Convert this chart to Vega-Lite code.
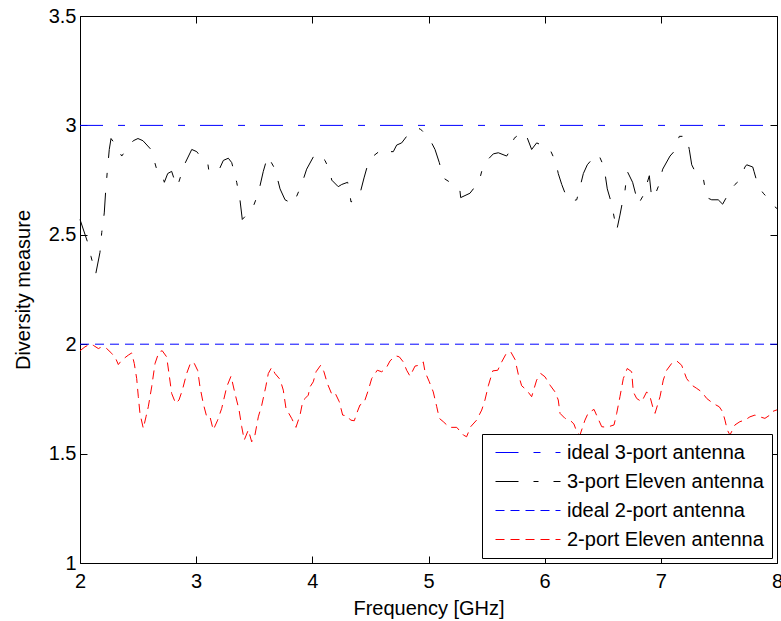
{
  "$schema": "https://vega.github.io/schema/vega-lite/v6.json",
  "autosize": "none",
  "width": 697,
  "height": 547,
  "padding": {"left": 80, "top": 16, "right": 4, "bottom": 58},
  "background": "white",
  "config": {
    "font": "Liberation Sans",
    "view": {"stroke": null},
    "axis": {"grid": false, "domainColor": "black", "tickColor": "black", "labelColor": "black", "titleColor": "black", "labelFontSize": 20, "titleFontSize": 20, "titleFontWeight": "normal", "tickSize": -7, "domainWidth": 1, "tickWidth": 1, "labelFlush": false, "labelOverlap": false},
    "legend": {"orient": "none", "legendX": 402, "legendY": 418, "fillColor": "white", "strokeColor": "black", "padding": 8, "labelFontSize": 20, "labelColor": "black", "rowPadding": 8, "symbolSize": 400, "symbolType": "M-0.5,0H6", "symbolStrokeWidth": 1, "labelOffset": 56, "labelLimit": 400}
  },
  "data": {"values": [
    {"freq": 2, "dm": 3, "series": "ideal 3-port antenna"},
    {"freq": 8, "dm": 3, "series": "ideal 3-port antenna"},
    {"freq": 2, "dm": 2, "series": "ideal 2-port antenna"},
    {"freq": 8, "dm": 2, "series": "ideal 2-port antenna"},
    {"freq": 2.000, "dm": 2.57, "series": "3-port Eleven antenna"},
    {"freq": 2.063, "dm": 2.47, "series": "3-port Eleven antenna"},
    {"freq": 2.095, "dm": 2.40, "series": "3-port Eleven antenna"},
    {"freq": 2.135, "dm": 2.32, "series": "3-port Eleven antenna"},
    {"freq": 2.172, "dm": 2.42, "series": "3-port Eleven antenna"},
    {"freq": 2.187, "dm": 2.51, "series": "3-port Eleven antenna"},
    {"freq": 2.209, "dm": 2.60, "series": "3-port Eleven antenna"},
    {"freq": 2.221, "dm": 2.70, "series": "3-port Eleven antenna"},
    {"freq": 2.235, "dm": 2.79, "series": "3-port Eleven antenna"},
    {"freq": 2.252, "dm": 2.89, "series": "3-port Eleven antenna"},
    {"freq": 2.267, "dm": 2.94, "series": "3-port Eleven antenna"},
    {"freq": 2.295, "dm": 2.92, "series": "3-port Eleven antenna"},
    {"freq": 2.359, "dm": 2.86, "series": "3-port Eleven antenna"},
    {"freq": 2.387, "dm": 2.88, "series": "3-port Eleven antenna"},
    {"freq": 2.459, "dm": 2.93, "series": "3-port Eleven antenna"},
    {"freq": 2.499, "dm": 2.94, "series": "3-port Eleven antenna"},
    {"freq": 2.542, "dm": 2.93, "series": "3-port Eleven antenna"},
    {"freq": 2.611, "dm": 2.89, "series": "3-port Eleven antenna"},
    {"freq": 2.628, "dm": 2.86, "series": "3-port Eleven antenna"},
    {"freq": 2.665, "dm": 2.79, "series": "3-port Eleven antenna"},
    {"freq": 2.703, "dm": 2.78, "series": "3-port Eleven antenna"},
    {"freq": 2.726, "dm": 2.74, "series": "3-port Eleven antenna"},
    {"freq": 2.755, "dm": 2.78, "series": "3-port Eleven antenna"},
    {"freq": 2.789, "dm": 2.79, "series": "3-port Eleven antenna"},
    {"freq": 2.832, "dm": 2.72, "series": "3-port Eleven antenna"},
    {"freq": 2.844, "dm": 2.73, "series": "3-port Eleven antenna"},
    {"freq": 2.898, "dm": 2.82, "series": "3-port Eleven antenna"},
    {"freq": 2.962, "dm": 2.89, "series": "3-port Eleven antenna"},
    {"freq": 3.005, "dm": 2.88, "series": "3-port Eleven antenna"},
    {"freq": 3.048, "dm": 2.85, "series": "3-port Eleven antenna"},
    {"freq": 3.099, "dm": 2.83, "series": "3-port Eleven antenna"},
    {"freq": 3.110, "dm": 2.79, "series": "3-port Eleven antenna"},
    {"freq": 3.191, "dm": 2.79, "series": "3-port Eleven antenna"},
    {"freq": 3.234, "dm": 2.84, "series": "3-port Eleven antenna"},
    {"freq": 3.277, "dm": 2.85, "series": "3-port Eleven antenna"},
    {"freq": 3.306, "dm": 2.83, "series": "3-port Eleven antenna"},
    {"freq": 3.349, "dm": 2.74, "series": "3-port Eleven antenna"},
    {"freq": 3.377, "dm": 2.66, "series": "3-port Eleven antenna"},
    {"freq": 3.397, "dm": 2.57, "series": "3-port Eleven antenna"},
    {"freq": 3.449, "dm": 2.60, "series": "3-port Eleven antenna"},
    {"freq": 3.492, "dm": 2.63, "series": "3-port Eleven antenna"},
    {"freq": 3.535, "dm": 2.69, "series": "3-port Eleven antenna"},
    {"freq": 3.578, "dm": 2.79, "series": "3-port Eleven antenna"},
    {"freq": 3.616, "dm": 2.86, "series": "3-port Eleven antenna"},
    {"freq": 3.679, "dm": 2.80, "series": "3-port Eleven antenna"},
    {"freq": 3.722, "dm": 2.71, "series": "3-port Eleven antenna"},
    {"freq": 3.765, "dm": 2.66, "series": "3-port Eleven antenna"},
    {"freq": 3.836, "dm": 2.64, "series": "3-port Eleven antenna"},
    {"freq": 3.908, "dm": 2.73, "series": "3-port Eleven antenna"},
    {"freq": 3.951, "dm": 2.80, "series": "3-port Eleven antenna"},
    {"freq": 4.023, "dm": 2.87, "series": "3-port Eleven antenna"},
    {"freq": 4.051, "dm": 2.87, "series": "3-port Eleven antenna"},
    {"freq": 4.109, "dm": 2.84, "series": "3-port Eleven antenna"},
    {"freq": 4.152, "dm": 2.79, "series": "3-port Eleven antenna"},
    {"freq": 4.167, "dm": 2.75, "series": "3-port Eleven antenna"},
    {"freq": 4.223, "dm": 2.72, "series": "3-port Eleven antenna"},
    {"freq": 4.253, "dm": 2.73, "series": "3-port Eleven antenna"},
    {"freq": 4.304, "dm": 2.74, "series": "3-port Eleven antenna"},
    {"freq": 4.324, "dm": 2.68, "series": "3-port Eleven antenna"},
    {"freq": 4.333, "dm": 2.65, "series": "3-port Eleven antenna"},
    {"freq": 4.396, "dm": 2.67, "series": "3-port Eleven antenna"},
    {"freq": 4.416, "dm": 2.70, "series": "3-port Eleven antenna"},
    {"freq": 4.445, "dm": 2.76, "series": "3-port Eleven antenna"},
    {"freq": 4.482, "dm": 2.83, "series": "3-port Eleven antenna"},
    {"freq": 4.525, "dm": 2.86, "series": "3-port Eleven antenna"},
    {"freq": 4.597, "dm": 2.89, "series": "3-port Eleven antenna"},
    {"freq": 4.611, "dm": 2.88, "series": "3-port Eleven antenna"},
    {"freq": 4.697, "dm": 2.88, "series": "3-port Eleven antenna"},
    {"freq": 4.726, "dm": 2.91, "series": "3-port Eleven antenna"},
    {"freq": 4.769, "dm": 2.92, "series": "3-port Eleven antenna"},
    {"freq": 4.812, "dm": 2.95, "series": "3-port Eleven antenna"},
    {"freq": 4.855, "dm": 2.97, "series": "3-port Eleven antenna"},
    {"freq": 4.927, "dm": 2.985, "series": "3-port Eleven antenna"},
    {"freq": 4.955, "dm": 2.97, "series": "3-port Eleven antenna"},
    {"freq": 5.027, "dm": 2.92, "series": "3-port Eleven antenna"},
    {"freq": 5.056, "dm": 2.89, "series": "3-port Eleven antenna"},
    {"freq": 5.093, "dm": 2.83, "series": "3-port Eleven antenna"},
    {"freq": 5.127, "dm": 2.76, "series": "3-port Eleven antenna"},
    {"freq": 5.185, "dm": 2.74, "series": "3-port Eleven antenna"},
    {"freq": 5.228, "dm": 2.73, "series": "3-port Eleven antenna"},
    {"freq": 5.271, "dm": 2.70, "series": "3-port Eleven antenna"},
    {"freq": 5.277, "dm": 2.67, "series": "3-port Eleven antenna"},
    {"freq": 5.357, "dm": 2.69, "series": "3-port Eleven antenna"},
    {"freq": 5.386, "dm": 2.71, "series": "3-port Eleven antenna"},
    {"freq": 5.429, "dm": 2.73, "series": "3-port Eleven antenna"},
    {"freq": 5.458, "dm": 2.79, "series": "3-port Eleven antenna"},
    {"freq": 5.486, "dm": 2.83, "series": "3-port Eleven antenna"},
    {"freq": 5.558, "dm": 2.87, "series": "3-port Eleven antenna"},
    {"freq": 5.601, "dm": 2.875, "series": "3-port Eleven antenna"},
    {"freq": 5.673, "dm": 2.86, "series": "3-port Eleven antenna"},
    {"freq": 5.708, "dm": 2.89, "series": "3-port Eleven antenna"},
    {"freq": 5.736, "dm": 2.94, "series": "3-port Eleven antenna"},
    {"freq": 5.802, "dm": 2.97, "series": "3-port Eleven antenna"},
    {"freq": 5.845, "dm": 2.95, "series": "3-port Eleven antenna"},
    {"freq": 5.888, "dm": 2.89, "series": "3-port Eleven antenna"},
    {"freq": 5.931, "dm": 2.92, "series": "3-port Eleven antenna"},
    {"freq": 5.974, "dm": 2.91, "series": "3-port Eleven antenna"},
    {"freq": 6.031, "dm": 2.90, "series": "3-port Eleven antenna"},
    {"freq": 6.046, "dm": 2.89, "series": "3-port Eleven antenna"},
    {"freq": 6.097, "dm": 2.83, "series": "3-port Eleven antenna"},
    {"freq": 6.117, "dm": 2.78, "series": "3-port Eleven antenna"},
    {"freq": 6.147, "dm": 2.73, "series": "3-port Eleven antenna"},
    {"freq": 6.190, "dm": 2.67, "series": "3-port Eleven antenna"},
    {"freq": 6.233, "dm": 2.655, "series": "3-port Eleven antenna"},
    {"freq": 6.276, "dm": 2.66, "series": "3-port Eleven antenna"},
    {"freq": 6.310, "dm": 2.73, "series": "3-port Eleven antenna"},
    {"freq": 6.333, "dm": 2.78, "series": "3-port Eleven antenna"},
    {"freq": 6.367, "dm": 2.82, "series": "3-port Eleven antenna"},
    {"freq": 6.448, "dm": 2.87, "series": "3-port Eleven antenna"},
    {"freq": 6.470, "dm": 2.86, "series": "3-port Eleven antenna"},
    {"freq": 6.511, "dm": 2.81, "series": "3-port Eleven antenna"},
    {"freq": 6.539, "dm": 2.71, "series": "3-port Eleven antenna"},
    {"freq": 6.577, "dm": 2.64, "series": "3-port Eleven antenna"},
    {"freq": 6.591, "dm": 2.60, "series": "3-port Eleven antenna"},
    {"freq": 6.620, "dm": 2.52, "series": "3-port Eleven antenna"},
    {"freq": 6.648, "dm": 2.59, "series": "3-port Eleven antenna"},
    {"freq": 6.677, "dm": 2.67, "series": "3-port Eleven antenna"},
    {"freq": 6.691, "dm": 2.70, "series": "3-port Eleven antenna"},
    {"freq": 6.711, "dm": 2.79, "series": "3-port Eleven antenna"},
    {"freq": 6.757, "dm": 2.74, "series": "3-port Eleven antenna"},
    {"freq": 6.806, "dm": 2.64, "series": "3-port Eleven antenna"},
    {"freq": 6.849, "dm": 2.68, "series": "3-port Eleven antenna"},
    {"freq": 6.901, "dm": 2.77, "series": "3-port Eleven antenna"},
    {"freq": 6.921, "dm": 2.67, "series": "3-port Eleven antenna"},
    {"freq": 6.941, "dm": 2.67, "series": "3-port Eleven antenna"},
    {"freq": 6.978, "dm": 2.72, "series": "3-port Eleven antenna"},
    {"freq": 7.016, "dm": 2.80, "series": "3-port Eleven antenna"},
    {"freq": 7.079, "dm": 2.86, "series": "3-port Eleven antenna"},
    {"freq": 7.113, "dm": 2.88, "series": "3-port Eleven antenna"},
    {"freq": 7.159, "dm": 2.95, "series": "3-port Eleven antenna"},
    {"freq": 7.222, "dm": 2.95, "series": "3-port Eleven antenna"},
    {"freq": 7.245, "dm": 2.89, "series": "3-port Eleven antenna"},
    {"freq": 7.266, "dm": 2.82, "series": "3-port Eleven antenna"},
    {"freq": 7.294, "dm": 2.79, "series": "3-port Eleven antenna"},
    {"freq": 7.365, "dm": 2.76, "series": "3-port Eleven antenna"},
    {"freq": 7.395, "dm": 2.67, "series": "3-port Eleven antenna"},
    {"freq": 7.438, "dm": 2.66, "series": "3-port Eleven antenna"},
    {"freq": 7.494, "dm": 2.66, "series": "3-port Eleven antenna"},
    {"freq": 7.532, "dm": 2.64, "series": "3-port Eleven antenna"},
    {"freq": 7.595, "dm": 2.70, "series": "3-port Eleven antenna"},
    {"freq": 7.638, "dm": 2.73, "series": "3-port Eleven antenna"},
    {"freq": 7.681, "dm": 2.75, "series": "3-port Eleven antenna"},
    {"freq": 7.724, "dm": 2.81, "series": "3-port Eleven antenna"},
    {"freq": 7.739, "dm": 2.82, "series": "3-port Eleven antenna"},
    {"freq": 7.791, "dm": 2.81, "series": "3-port Eleven antenna"},
    {"freq": 7.802, "dm": 2.79, "series": "3-port Eleven antenna"},
    {"freq": 7.839, "dm": 2.72, "series": "3-port Eleven antenna"},
    {"freq": 7.882, "dm": 2.69, "series": "3-port Eleven antenna"},
    {"freq": 7.916, "dm": 2.67, "series": "3-port Eleven antenna"},
    {"freq": 7.954, "dm": 2.64, "series": "3-port Eleven antenna"},
    {"freq": 8.000, "dm": 2.62, "series": "3-port Eleven antenna"},
    {"freq": 2.000, "dm": 1.97, "series": "2-port Eleven antenna"},
    {"freq": 2.043, "dm": 1.988, "series": "2-port Eleven antenna"},
    {"freq": 2.086, "dm": 2.0, "series": "2-port Eleven antenna"},
    {"freq": 2.114, "dm": 1.995, "series": "2-port Eleven antenna"},
    {"freq": 2.158, "dm": 1.98, "series": "2-port Eleven antenna"},
    {"freq": 2.187, "dm": 1.988, "series": "2-port Eleven antenna"},
    {"freq": 2.230, "dm": 1.98, "series": "2-port Eleven antenna"},
    {"freq": 2.273, "dm": 1.958, "series": "2-port Eleven antenna"},
    {"freq": 2.307, "dm": 1.935, "series": "2-port Eleven antenna"},
    {"freq": 2.330, "dm": 1.907, "series": "2-port Eleven antenna"},
    {"freq": 2.359, "dm": 1.927, "series": "2-port Eleven antenna"},
    {"freq": 2.416, "dm": 1.95, "series": "2-port Eleven antenna"},
    {"freq": 2.445, "dm": 1.96, "series": "2-port Eleven antenna"},
    {"freq": 2.467, "dm": 1.912, "series": "2-port Eleven antenna"},
    {"freq": 2.488, "dm": 1.843, "series": "2-port Eleven antenna"},
    {"freq": 2.502, "dm": 1.76, "series": "2-port Eleven antenna"},
    {"freq": 2.516, "dm": 1.684, "series": "2-port Eleven antenna"},
    {"freq": 2.545, "dm": 1.615, "series": "2-port Eleven antenna"},
    {"freq": 2.568, "dm": 1.668, "series": "2-port Eleven antenna"},
    {"freq": 2.588, "dm": 1.714, "series": "2-port Eleven antenna"},
    {"freq": 2.617, "dm": 1.805, "series": "2-port Eleven antenna"},
    {"freq": 2.646, "dm": 1.912, "series": "2-port Eleven antenna"},
    {"freq": 2.680, "dm": 1.965, "series": "2-port Eleven antenna"},
    {"freq": 2.708, "dm": 1.97, "series": "2-port Eleven antenna"},
    {"freq": 2.746, "dm": 1.942, "series": "2-port Eleven antenna"},
    {"freq": 2.766, "dm": 1.866, "series": "2-port Eleven antenna"},
    {"freq": 2.789, "dm": 1.775, "series": "2-port Eleven antenna"},
    {"freq": 2.824, "dm": 1.729, "series": "2-port Eleven antenna"},
    {"freq": 2.852, "dm": 1.745, "series": "2-port Eleven antenna"},
    {"freq": 2.881, "dm": 1.79, "series": "2-port Eleven antenna"},
    {"freq": 2.918, "dm": 1.866, "series": "2-port Eleven antenna"},
    {"freq": 2.955, "dm": 1.919, "series": "2-port Eleven antenna"},
    {"freq": 2.984, "dm": 1.912, "series": "2-port Eleven antenna"},
    {"freq": 3.013, "dm": 1.88, "series": "2-port Eleven antenna"},
    {"freq": 3.033, "dm": 1.805, "series": "2-port Eleven antenna"},
    {"freq": 3.061, "dm": 1.729, "series": "2-port Eleven antenna"},
    {"freq": 3.091, "dm": 1.668, "series": "2-port Eleven antenna"},
    {"freq": 3.119, "dm": 1.668, "series": "2-port Eleven antenna"},
    {"freq": 3.147, "dm": 1.608, "series": "2-port Eleven antenna"},
    {"freq": 3.185, "dm": 1.653, "series": "2-port Eleven antenna"},
    {"freq": 3.220, "dm": 1.707, "series": "2-port Eleven antenna"},
    {"freq": 3.263, "dm": 1.805, "series": "2-port Eleven antenna"},
    {"freq": 3.300, "dm": 1.854, "series": "2-port Eleven antenna"},
    {"freq": 3.334, "dm": 1.775, "series": "2-port Eleven antenna"},
    {"freq": 3.369, "dm": 1.70, "series": "2-port Eleven antenna"},
    {"freq": 3.392, "dm": 1.623, "series": "2-port Eleven antenna"},
    {"freq": 3.414, "dm": 1.562, "series": "2-port Eleven antenna"},
    {"freq": 3.449, "dm": 1.608, "series": "2-port Eleven antenna"},
    {"freq": 3.478, "dm": 1.554, "series": "2-port Eleven antenna"},
    {"freq": 3.506, "dm": 1.585, "series": "2-port Eleven antenna"},
    {"freq": 3.535, "dm": 1.668, "series": "2-port Eleven antenna"},
    {"freq": 3.564, "dm": 1.72, "series": "2-port Eleven antenna"},
    {"freq": 3.599, "dm": 1.805, "series": "2-port Eleven antenna"},
    {"freq": 3.621, "dm": 1.866, "series": "2-port Eleven antenna"},
    {"freq": 3.650, "dm": 1.894, "series": "2-port Eleven antenna"},
    {"freq": 3.679, "dm": 1.866, "series": "2-port Eleven antenna"},
    {"freq": 3.722, "dm": 1.839, "series": "2-port Eleven antenna"},
    {"freq": 3.750, "dm": 1.79, "series": "2-port Eleven antenna"},
    {"freq": 3.773, "dm": 1.707, "series": "2-port Eleven antenna"},
    {"freq": 3.822, "dm": 1.661, "series": "2-port Eleven antenna"},
    {"freq": 3.859, "dm": 1.62, "series": "2-port Eleven antenna"},
    {"freq": 3.894, "dm": 1.676, "series": "2-port Eleven antenna"},
    {"freq": 3.914, "dm": 1.729, "series": "2-port Eleven antenna"},
    {"freq": 3.937, "dm": 1.752, "series": "2-port Eleven antenna"},
    {"freq": 3.965, "dm": 1.767, "series": "2-port Eleven antenna"},
    {"freq": 3.980, "dm": 1.805, "series": "2-port Eleven antenna"},
    {"freq": 4.008, "dm": 1.828, "series": "2-port Eleven antenna"},
    {"freq": 4.032, "dm": 1.874, "series": "2-port Eleven antenna"},
    {"freq": 4.072, "dm": 1.904, "series": "2-port Eleven antenna"},
    {"freq": 4.100, "dm": 1.874, "series": "2-port Eleven antenna"},
    {"freq": 4.129, "dm": 1.821, "series": "2-port Eleven antenna"},
    {"freq": 4.167, "dm": 1.772, "series": "2-port Eleven antenna"},
    {"freq": 4.195, "dm": 1.778, "series": "2-port Eleven antenna"},
    {"freq": 4.232, "dm": 1.737, "series": "2-port Eleven antenna"},
    {"freq": 4.261, "dm": 1.676, "series": "2-port Eleven antenna"},
    {"freq": 4.301, "dm": 1.672, "series": "2-port Eleven antenna"},
    {"freq": 4.330, "dm": 1.653, "series": "2-port Eleven antenna"},
    {"freq": 4.361, "dm": 1.65, "series": "2-port Eleven antenna"},
    {"freq": 4.382, "dm": 1.684, "series": "2-port Eleven antenna"},
    {"freq": 4.410, "dm": 1.722, "series": "2-port Eleven antenna"},
    {"freq": 4.445, "dm": 1.732, "series": "2-port Eleven antenna"},
    {"freq": 4.482, "dm": 1.79, "series": "2-port Eleven antenna"},
    {"freq": 4.511, "dm": 1.843, "series": "2-port Eleven antenna"},
    {"freq": 4.559, "dm": 1.881, "series": "2-port Eleven antenna"},
    {"freq": 4.597, "dm": 1.874, "series": "2-port Eleven antenna"},
    {"freq": 4.634, "dm": 1.889, "series": "2-port Eleven antenna"},
    {"freq": 4.669, "dm": 1.924, "series": "2-port Eleven antenna"},
    {"freq": 4.718, "dm": 1.947, "series": "2-port Eleven antenna"},
    {"freq": 4.749, "dm": 1.942, "series": "2-port Eleven antenna"},
    {"freq": 4.783, "dm": 1.919, "series": "2-port Eleven antenna"},
    {"freq": 4.812, "dm": 1.881, "series": "2-port Eleven antenna"},
    {"freq": 4.841, "dm": 1.854, "series": "2-port Eleven antenna"},
    {"freq": 4.884, "dm": 1.90, "series": "2-port Eleven antenna"},
    {"freq": 4.921, "dm": 1.904, "series": "2-port Eleven antenna"},
    {"freq": 4.955, "dm": 1.919, "series": "2-port Eleven antenna"},
    {"freq": 4.970, "dm": 1.874, "series": "2-port Eleven antenna"},
    {"freq": 5.007, "dm": 1.828, "series": "2-port Eleven antenna"},
    {"freq": 5.041, "dm": 1.782, "series": "2-port Eleven antenna"},
    {"freq": 5.071, "dm": 1.714, "series": "2-port Eleven antenna"},
    {"freq": 5.093, "dm": 1.661, "series": "2-port Eleven antenna"},
    {"freq": 5.127, "dm": 1.646, "series": "2-port Eleven antenna"},
    {"freq": 5.179, "dm": 1.62, "series": "2-port Eleven antenna"},
    {"freq": 5.243, "dm": 1.62, "series": "2-port Eleven antenna"},
    {"freq": 5.300, "dm": 1.585, "series": "2-port Eleven antenna"},
    {"freq": 5.328, "dm": 1.577, "series": "2-port Eleven antenna"},
    {"freq": 5.363, "dm": 1.623, "series": "2-port Eleven antenna"},
    {"freq": 5.414, "dm": 1.653, "series": "2-port Eleven antenna"},
    {"freq": 5.458, "dm": 1.699, "series": "2-port Eleven antenna"},
    {"freq": 5.486, "dm": 1.745, "series": "2-port Eleven antenna"},
    {"freq": 5.515, "dm": 1.81, "series": "2-port Eleven antenna"},
    {"freq": 5.553, "dm": 1.878, "series": "2-port Eleven antenna"},
    {"freq": 5.596, "dm": 1.881, "series": "2-port Eleven antenna"},
    {"freq": 5.630, "dm": 1.919, "series": "2-port Eleven antenna"},
    {"freq": 5.670, "dm": 1.958, "series": "2-port Eleven antenna"},
    {"freq": 5.708, "dm": 1.965, "series": "2-port Eleven antenna"},
    {"freq": 5.745, "dm": 1.93, "series": "2-port Eleven antenna"},
    {"freq": 5.773, "dm": 1.862, "series": "2-port Eleven antenna"},
    {"freq": 5.802, "dm": 1.81, "series": "2-port Eleven antenna"},
    {"freq": 5.845, "dm": 1.79, "series": "2-port Eleven antenna"},
    {"freq": 5.888, "dm": 1.76, "series": "2-port Eleven antenna"},
    {"freq": 5.931, "dm": 1.836, "series": "2-port Eleven antenna"},
    {"freq": 5.966, "dm": 1.866, "series": "2-port Eleven antenna"},
    {"freq": 6.003, "dm": 1.851, "series": "2-port Eleven antenna"},
    {"freq": 6.046, "dm": 1.813, "series": "2-port Eleven antenna"},
    {"freq": 6.089, "dm": 1.782, "series": "2-port Eleven antenna"},
    {"freq": 6.117, "dm": 1.745, "series": "2-port Eleven antenna"},
    {"freq": 6.132, "dm": 1.684, "series": "2-port Eleven antenna"},
    {"freq": 6.175, "dm": 1.661, "series": "2-port Eleven antenna"},
    {"freq": 6.218, "dm": 1.653, "series": "2-port Eleven antenna"},
    {"freq": 6.252, "dm": 1.635, "series": "2-port Eleven antenna"},
    {"freq": 6.281, "dm": 1.593, "series": "2-port Eleven antenna"},
    {"freq": 6.304, "dm": 1.585, "series": "2-port Eleven antenna"},
    {"freq": 6.347, "dm": 1.653, "series": "2-port Eleven antenna"},
    {"freq": 6.376, "dm": 1.687, "series": "2-port Eleven antenna"},
    {"freq": 6.425, "dm": 1.702, "series": "2-port Eleven antenna"},
    {"freq": 6.453, "dm": 1.668, "series": "2-port Eleven antenna"},
    {"freq": 6.491, "dm": 1.623, "series": "2-port Eleven antenna"},
    {"freq": 6.534, "dm": 1.62, "series": "2-port Eleven antenna"},
    {"freq": 6.597, "dm": 1.631, "series": "2-port Eleven antenna"},
    {"freq": 6.620, "dm": 1.684, "series": "2-port Eleven antenna"},
    {"freq": 6.648, "dm": 1.76, "series": "2-port Eleven antenna"},
    {"freq": 6.677, "dm": 1.843, "series": "2-port Eleven antenna"},
    {"freq": 6.711, "dm": 1.889, "series": "2-port Eleven antenna"},
    {"freq": 6.749, "dm": 1.874, "series": "2-port Eleven antenna"},
    {"freq": 6.763, "dm": 1.782, "series": "2-port Eleven antenna"},
    {"freq": 6.792, "dm": 1.752, "series": "2-port Eleven antenna"},
    {"freq": 6.835, "dm": 1.737, "series": "2-port Eleven antenna"},
    {"freq": 6.878, "dm": 1.782, "series": "2-port Eleven antenna"},
    {"freq": 6.907, "dm": 1.76, "series": "2-port Eleven antenna"},
    {"freq": 6.930, "dm": 1.714, "series": "2-port Eleven antenna"},
    {"freq": 6.950, "dm": 1.684, "series": "2-port Eleven antenna"},
    {"freq": 6.993, "dm": 1.76, "series": "2-port Eleven antenna"},
    {"freq": 7.021, "dm": 1.836, "series": "2-port Eleven antenna"},
    {"freq": 7.050, "dm": 1.881, "series": "2-port Eleven antenna"},
    {"freq": 7.093, "dm": 1.912, "series": "2-port Eleven antenna"},
    {"freq": 7.136, "dm": 1.924, "series": "2-port Eleven antenna"},
    {"freq": 7.179, "dm": 1.904, "series": "2-port Eleven antenna"},
    {"freq": 7.222, "dm": 1.843, "series": "2-port Eleven antenna"},
    {"freq": 7.266, "dm": 1.813, "series": "2-port Eleven antenna"},
    {"freq": 7.309, "dm": 1.798, "series": "2-port Eleven antenna"},
    {"freq": 7.352, "dm": 1.782, "series": "2-port Eleven antenna"},
    {"freq": 7.395, "dm": 1.752, "series": "2-port Eleven antenna"},
    {"freq": 7.451, "dm": 1.729, "series": "2-port Eleven antenna"},
    {"freq": 7.503, "dm": 1.714, "series": "2-port Eleven antenna"},
    {"freq": 7.532, "dm": 1.691, "series": "2-port Eleven antenna"},
    {"freq": 7.552, "dm": 1.653, "series": "2-port Eleven antenna"},
    {"freq": 7.572, "dm": 1.608, "series": "2-port Eleven antenna"},
    {"freq": 7.595, "dm": 1.585, "series": "2-port Eleven antenna"},
    {"freq": 7.638, "dm": 1.631, "series": "2-port Eleven antenna"},
    {"freq": 7.681, "dm": 1.646, "series": "2-port Eleven antenna"},
    {"freq": 7.724, "dm": 1.653, "series": "2-port Eleven antenna"},
    {"freq": 7.767, "dm": 1.668, "series": "2-port Eleven antenna"},
    {"freq": 7.810, "dm": 1.676, "series": "2-port Eleven antenna"},
    {"freq": 7.853, "dm": 1.668, "series": "2-port Eleven antenna"},
    {"freq": 7.896, "dm": 1.661, "series": "2-port Eleven antenna"},
    {"freq": 7.938, "dm": 1.676, "series": "2-port Eleven antenna"},
    {"freq": 7.954, "dm": 1.691, "series": "2-port Eleven antenna"},
    {"freq": 8.000, "dm": 1.70, "series": "2-port Eleven antenna"}
  ]},
  "layer": [
    {
      "mark": {"type": "line", "strokeWidth": 1},
      "encoding": {
        "x": {"field": "freq", "type": "quantitative", "scale": {"domain": [2, 8], "nice": false, "zero": false},
              "axis": {"orient": "bottom", "title": "Frequency [GHz]", "values": [2, 3, 4, 5, 6, 7, 8], "format": "d", "labelPadding": 15, "titlePadding": 7}},
        "y": {"field": "dm", "type": "quantitative", "scale": {"domain": [1, 3.5], "nice": false, "zero": false},
              "axis": {"orient": "left", "title": "Diversity measure", "values": [1, 1.5, 2, 2.5, 3, 3.5], "format": "~g", "labelPadding": 11, "titlePadding": 15}},
        "color": {"field": "series", "type": "nominal",
                  "scale": {"domain": ["ideal 3-port antenna", "3-port Eleven antenna", "ideal 2-port antenna", "2-port Eleven antenna"], "range": ["#0000ff", "#000000", "#0000ff", "#ff0000"]},
                  "legend": {"title": null}},
        "strokeDash": {"field": "series", "type": "nominal",
                  "scale": {"domain": ["ideal 3-port antenna", "3-port Eleven antenna", "ideal 2-port antenna", "2-port Eleven antenna"], "range": [[23, 15, 7, 15], [23, 15, 5, 15], [9, 6], [9, 6]]},
                  "legend": {"title": null}}
      }
    },
    {
      "mark": {"type": "line", "opacity": 0},
      "encoding": {
        "x": {"field": "freq", "type": "quantitative", "scale": {"domain": [2, 8], "nice": false, "zero": false},
              "axis": {"orient": "top", "title": null, "labels": false, "values": [2, 3, 4, 5, 6, 7, 8]}},
        "y": {"field": "dm", "type": "quantitative", "scale": {"domain": [1, 3.5], "nice": false, "zero": false},
              "axis": {"orient": "right", "title": null, "labels": false, "values": [1, 1.5, 2, 2.5, 3, 3.5]}}
      }
    }
  ],
  "resolve": {"scale": {"x": "independent", "y": "independent"}, "axis": {"x": "independent", "y": "independent"}}
}
